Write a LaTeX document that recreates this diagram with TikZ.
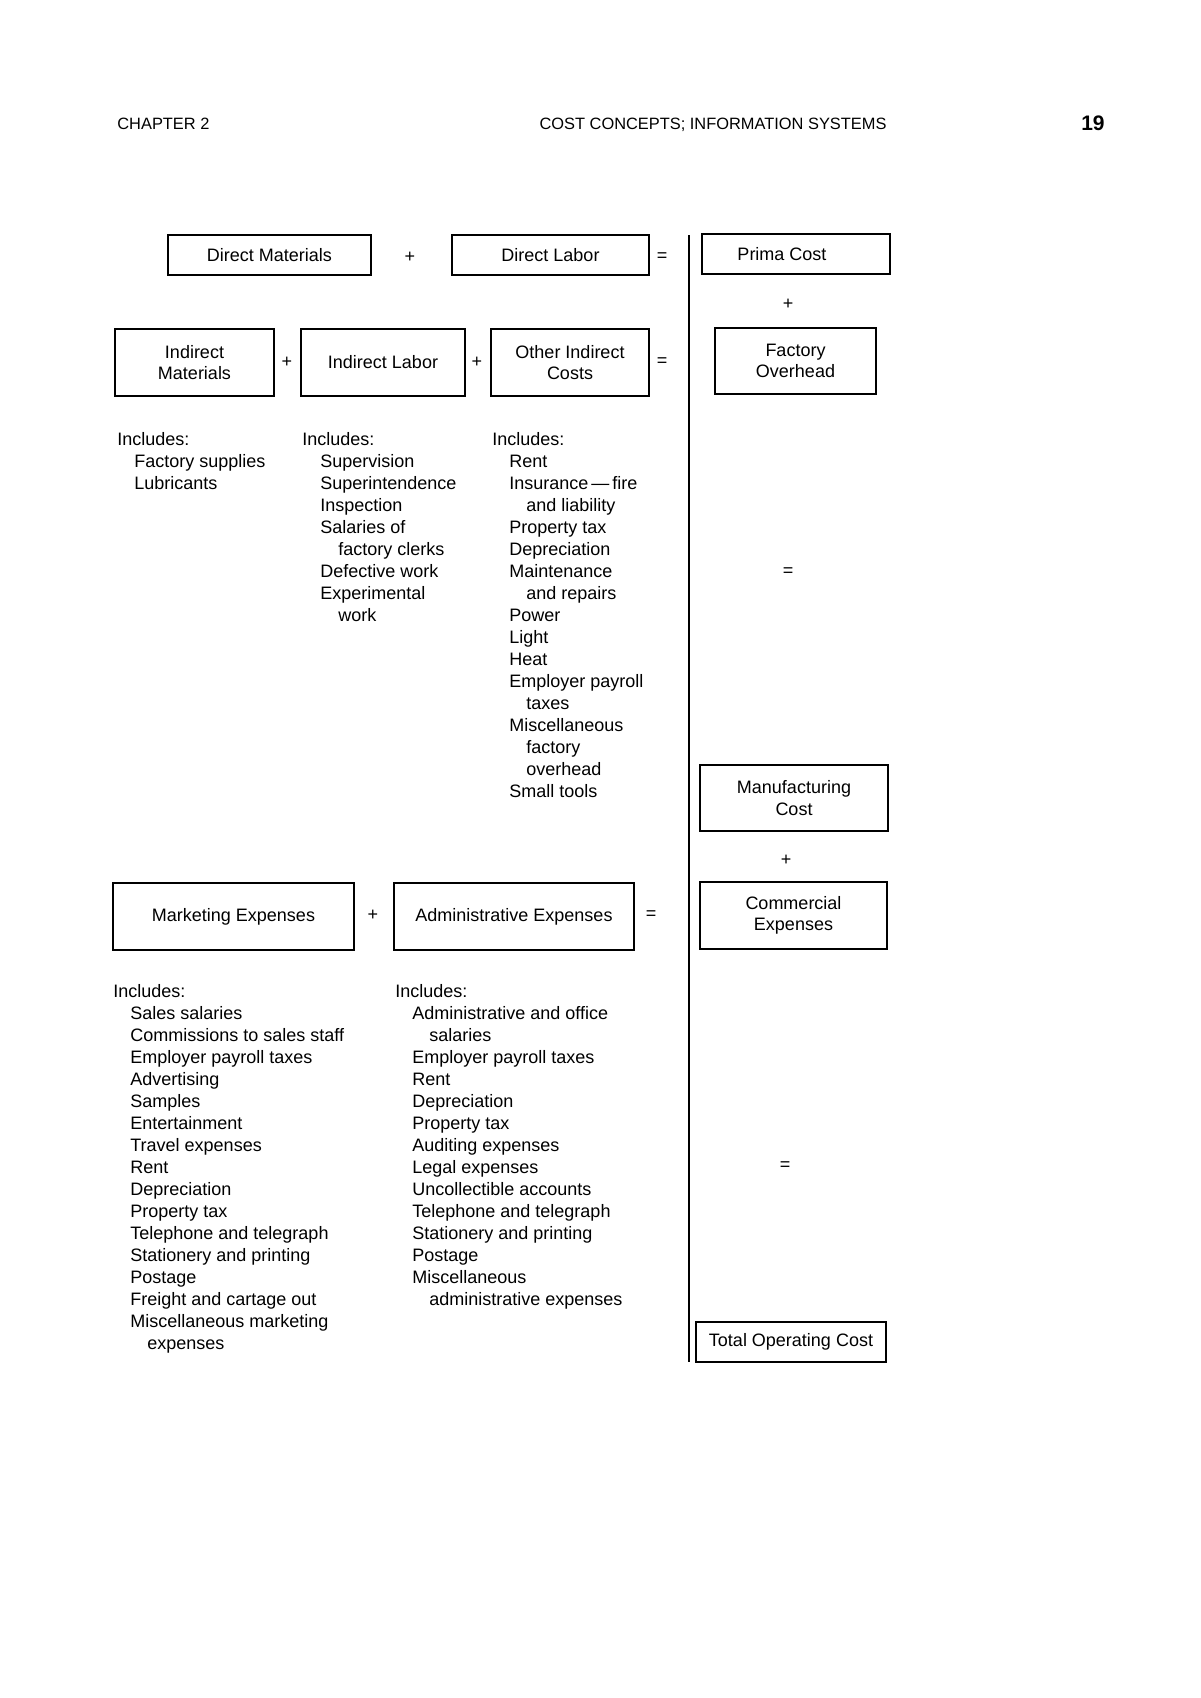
\documentclass[tikz,border=0pt]{standalone}
\usepackage{fontspec}
\setmainfont{Liberation Sans}
\begin{document}
\begin{tikzpicture}[x=0.5pt,y=-0.5pt,
  box/.style={draw, line width=1.1pt, inner sep=0pt, align=center, font=\fontsize{9}{10.8}\selectfont},
  op/.style={font=\fontsize{9}{10.8}\selectfont, inner sep=0pt},
  lst/.style={font=\fontsize{9}{10.8}\selectfont, inner sep=0pt, anchor=base west},
  hdr/.style={font=\fontsize{8.2}{10}\selectfont, inner sep=0pt}]
\useasboundingbox (0,0) rectangle (1200,1698);
% header
\node[hdr, anchor=base west] (chap) at (117,129.5) {CHAPTER 2};
\node[hdr, anchor=base] (title) at (713,129.5) {COST CONCEPTS; INFORMATION SYSTEMS};
\node[anchor=base east, inner sep=0pt, font=\fontsize{10.5}{12}\selectfont\bfseries] (pg) at (1105,130.5) {19};
% vertical rule
\coordinate (vtop) at (689,235);
\coordinate (vbot) at (689,1362);
\draw[line width=1.1pt] (vtop) -- (vbot);
% row 1
\node[box, minimum width=101.5pt, minimum height=20pt] (dm) at (269.5,255) {Direct Materials};
\node[op] (p1) at (410,257) {+};
\node[box, minimum width=98.5pt, minimum height=20pt] (dl) at (550.5,255) {Direct Labor};
\node[op] (e1) at (662,257) {=};
\node[box, minimum width=94pt, minimum height=20pt] (pc) at (796,254) {Prima Cost\hspace*{14pt}};
\node[op] (p2) at (788,304) {+};
% row 2
\node[box, minimum width=79.5pt, minimum height=33.5pt] (im) at (194.5,362.5) {Indirect\\Materials};
\node[op] (p3) at (287,362) {+};
\node[box, minimum width=82pt, minimum height=33.5pt] (il) at (383,362.5) {Indirect Labor};
\node[op] (p4) at (477,362) {+};
\node[box, minimum width=79pt, minimum height=33.5pt] (oic) at (570,362.5) {Other Indirect\\Costs};
\node[op] (e2) at (662,362) {=};
\node[box, minimum width=80.5pt, minimum height=33pt] (fo) at (795.5,361) {Factory\\Overhead};
% upper lists
\foreach \t/\d [count=\i from 0] in {Includes:/0, Factory supplies/1, Lubricants/1}
  {\node[lst] (ua\i) at (117+17*\d, 445+22*\i) {\t};}
\foreach \t/\d [count=\i from 0] in {Includes:/0, Supervision/1, Superintendence/1, Inspection/1, Salaries of/1, factory clerks/2, Defective work/1, Experimental/1, work/2}
  {\node[lst] (ub\i) at (302+18*\d, 445+22*\i) {\t};}
\foreach \t/\d [count=\i from 0] in {Includes:/0, Rent/1, Insurance\,—\,fire/1, and liability/2, Property tax/1, Depreciation/1, Maintenance/1, and repairs/2, Power/1, Light/1, Heat/1, Employer payroll/1, taxes/2, Miscellaneous/1, factory/2, overhead/2, Small tools/1}
  {\node[lst] (uc\i) at (492+17*\d, 445+22*\i) {\t};}
\node[op] (e3) at (788,572) {=};
% manufacturing cost
\node[box, minimum width=94pt, minimum height=33pt] (mc) at (794,798) {Manufacturing\\Cost};
\node[op] (p5) at (786,860) {+};
% row 3
\node[box, minimum width=120.5pt, minimum height=33.5pt] (me) at (233.5,916.5) {Marketing Expenses};
\node[op] (p6) at (373,915) {+};
\node[box, minimum width=120pt, minimum height=33.5pt] (ae) at (514,916.5) {Administrative Expenses};
\node[op] (e4) at (651,915) {=};
\node[box, minimum width=93.5pt, minimum height=33.5pt] (ce) at (793.5,915.5) {Commercial\\Expenses};
% lower lists
\foreach \t/\d [count=\i from 0] in {Includes:/0, Sales salaries/1, Commissions to sales staff/1, Employer payroll taxes/1, Advertising/1, Samples/1, Entertainment/1, Travel expenses/1, Rent/1, Depreciation/1, Property tax/1, Telephone and telegraph/1, Stationery and printing/1, Postage/1, Freight and cartage out/1, Miscellaneous marketing/1, expenses/2}
  {\node[lst] (la\i) at (113+17*\d, 997+22.04*\i) {\t};}
\foreach \t/\d [count=\i from 0] in {Includes:/0, Administrative and office/1, salaries/2, Employer payroll taxes/1, Rent/1, Depreciation/1, Property tax/1, Auditing expenses/1, Legal expenses/1, Uncollectible accounts/1, Telephone and telegraph/1, Stationery and printing/1, Postage/1, Miscellaneous/1, administrative expenses/2}
  {\node[lst] (lb\i) at (395+17*\d, 997+22.04*\i) {\t};}
\node[op] (e5) at (785,1166) {=};
\node[box, minimum width=95pt, minimum height=20pt] (toc) at (791,1342) {Total Operating Cost};
\end{tikzpicture}
\end{document}
